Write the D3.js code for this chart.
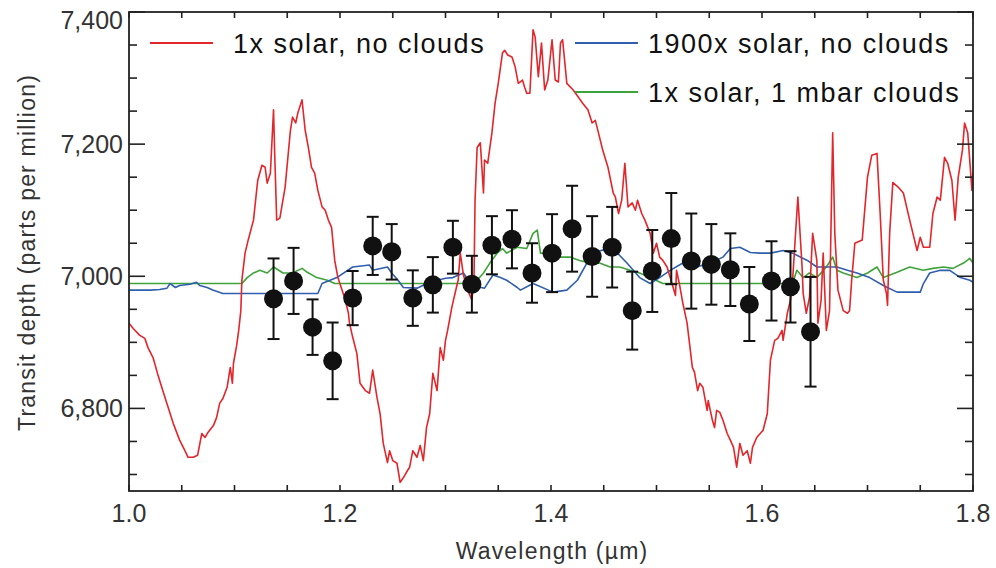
<!DOCTYPE html>
<html>
<head>
<meta charset="utf-8">
<script src="https://cdn.jsdelivr.net/npm/d3@7"></script>
<style>
  html, body { margin: 0; padding: 0; background: #fff; }
  svg { display: block; }
  text { font-family: "Liberation Sans", Arial, Helvetica, sans-serif; }
</style>
</head>
<body>
<svg id="chart" width="996" height="568"></svg>
<script>
// Measured transit depths (ppm) with 1-sigma uncertainties
const obsWavelength = [1.137, 1.156, 1.174, 1.193, 1.212, 1.231, 1.249, 1.269, 1.288, 1.307,
  1.325, 1.344, 1.363, 1.382, 1.401, 1.420, 1.439, 1.458, 1.477, 1.496,
  1.514, 1.533, 1.552, 1.570, 1.588, 1.609, 1.627, 1.646];
const obsDepth = [6966, 6993, 6923, 6872, 6967, 7046, 7037, 6967, 6987, 7044,
  6988, 7047, 7056, 7005, 7035, 7072, 7030, 7044, 6948, 7008,
  7057, 7023, 7018, 7010, 6958, 6993, 6984, 6916];
const obsError = [61, 50, 42, 58, 41, 44, 42, 42, 42, 40,
  43, 44, 44, 45, 59, 65, 61, 61, 59, 62,
  69, 72, 61, 55, 56, 60, 54, 83];

// Model: 1x solar, no clouds
const solarWl = [1.000, 1.004, 1.010, 1.015, 1.018, 1.023, 1.027, 1.032, 1.037, 1.042,
  1.048, 1.053, 1.056, 1.061, 1.065, 1.069, 1.072, 1.075, 1.080, 1.083,
  1.086, 1.089, 1.093, 1.096, 1.098, 1.099, 1.102, 1.104, 1.106, 1.107,
  1.110, 1.113, 1.118, 1.122, 1.126, 1.129, 1.131, 1.134, 1.137, 1.138,
  1.140, 1.143, 1.148, 1.153, 1.155, 1.158, 1.160, 1.164, 1.167, 1.170,
  1.173, 1.176, 1.179, 1.183, 1.186, 1.189, 1.192, 1.195, 1.198, 1.202,
  1.205, 1.208, 1.209, 1.212, 1.216, 1.219, 1.224, 1.228, 1.231, 1.235,
  1.238, 1.241, 1.245, 1.247, 1.250, 1.254, 1.257, 1.260, 1.264, 1.266,
  1.269, 1.273, 1.276, 1.279, 1.282, 1.285, 1.288, 1.292, 1.295, 1.298,
  1.300, 1.302, 1.306, 1.309, 1.312, 1.314, 1.317, 1.321, 1.325, 1.327,
  1.328, 1.330, 1.333, 1.336, 1.337, 1.340, 1.344, 1.347, 1.350, 1.354,
  1.356, 1.359, 1.363, 1.366, 1.369, 1.373, 1.375, 1.377, 1.380, 1.383,
  1.385, 1.388, 1.391, 1.394, 1.397, 1.401, 1.404, 1.407, 1.409, 1.411,
  1.415, 1.421, 1.426, 1.430, 1.435, 1.439, 1.442, 1.445, 1.449, 1.454,
  1.459, 1.461, 1.464, 1.467, 1.470, 1.473, 1.477, 1.480, 1.482, 1.486,
  1.489, 1.494, 1.497, 1.500, 1.503, 1.506, 1.510, 1.513, 1.518, 1.519,
  1.522, 1.525, 1.529, 1.534, 1.536, 1.539, 1.541, 1.544, 1.548, 1.549,
  1.553, 1.555, 1.557, 1.560, 1.563, 1.567, 1.570, 1.573, 1.576, 1.579,
  1.582, 1.586, 1.589, 1.591, 1.595, 1.601, 1.605, 1.608, 1.612, 1.615,
  1.619, 1.620, 1.624, 1.627, 1.629, 1.634, 1.638, 1.639, 1.642, 1.645,
  1.648, 1.652, 1.653, 1.656, 1.658, 1.661, 1.664, 1.667, 1.669, 1.672,
  1.677, 1.681, 1.683, 1.685, 1.688, 1.695, 1.700, 1.704, 1.709, 1.712,
  1.715, 1.718, 1.719, 1.721, 1.724, 1.729, 1.734, 1.740, 1.747, 1.750,
  1.753, 1.759, 1.762, 1.766, 1.769, 1.773, 1.776, 1.780, 1.783, 1.786,
  1.790, 1.792, 1.795, 1.799, 1.800];
const solarPpm = [6929, 6921, 6911, 6906, 6892, 6876, 6853, 6827, 6802, 6777,
  6752, 6736, 6726, 6726, 6729, 6762, 6756, 6764, 6774, 6786,
  6808, 6815, 6832, 6862, 6838, 6868, 6895, 6918, 6948, 6994,
  7035, 7055, 7085, 7145, 7168, 7165, 7141, 7156, 7252, 7191,
  7085, 7088, 7135, 7221, 7241, 7232, 7247, 7267, 7221, 7195,
  7165, 7156, 7130, 7105, 7100, 7085, 7074, 7024, 6998, 6979,
  6964, 6944, 6929, 6908, 6883, 6838, 6827, 6823, 6858, 6817,
  6792, 6747, 6718, 6736, 6721, 6717, 6688, 6695, 6706, 6711,
  6736, 6726, 6744, 6721, 6771, 6792, 6853, 6827, 6892, 6873,
  6903, 6918, 6953, 6974, 6994, 7035, 7002, 6979, 6964, 6994,
  7115, 7195, 7202, 7126, 7176, 7171, 7217, 7262, 7292, 7338,
  7342, 7335, 7332, 7317, 7292, 7297, 7286, 7277, 7277, 7373,
  7362, 7302, 7353, 7282, 7297, 7358, 7297, 7294, 7353, 7358,
  7292, 7282, 7271, 7262, 7252, 7232, 7236, 7217, 7191, 7165,
  7126, 7120, 7095, 7115, 7171, 7105, 7111, 7100, 7115, 7095,
  7085, 7065, 7035, 7050, 7029, 7024, 7014, 6998, 6971, 7009,
  6986, 6959, 6929, 6862, 6855, 6827, 6838, 6832, 6797, 6812,
  6782, 6771, 6797, 6794, 6782, 6762, 6752, 6741, 6711, 6747,
  6729, 6736, 6717, 6741, 6756, 6767, 6792, 6873, 6903, 6906,
  6918, 6903, 6944, 6964, 6994, 7120, 7014, 6974, 6944, 6968,
  7065, 7024, 6929, 6964, 7035, 6918, 6948, 7217, 7065, 6979,
  6948, 6944, 6948, 6994, 7050, 7055, 7150, 7183, 7186, 7095,
  6994, 6974, 6956, 7065, 7142, 7135, 7126, 7085, 7039, 7059,
  7044, 7044, 7095, 7120, 7115, 7180, 7171, 7145, 7085, 7150,
  7191, 7232, 7217, 7130, 7156];

// Model: 1900x solar, no clouds
const metalWl = [1.000, 1.020, 1.029, 1.036, 1.039, 1.044, 1.048, 1.058, 1.064, 1.067,
  1.074, 1.080, 1.089, 1.131, 1.162, 1.179, 1.183, 1.197, 1.212, 1.228,
  1.231, 1.245, 1.249, 1.255, 1.260, 1.273, 1.285, 1.300, 1.307, 1.317,
  1.325, 1.337, 1.345, 1.352, 1.358, 1.368, 1.371, 1.383, 1.402, 1.415,
  1.425, 1.434, 1.440, 1.453, 1.463, 1.472, 1.478, 1.484, 1.494, 1.503,
  1.513, 1.525, 1.538, 1.551, 1.563, 1.570, 1.579, 1.589, 1.598, 1.608,
  1.620, 1.629, 1.643, 1.652, 1.671, 1.681, 1.690, 1.702, 1.715, 1.728,
  1.750, 1.753, 1.759, 1.769, 1.778, 1.788, 1.797, 1.800];
const metalPpm = [6979, 6979, 6980, 6982, 6989, 6983, 6986, 6988, 6991, 6986,
  6983, 6979, 6974, 6974, 6974, 6974, 6989, 6998, 7014, 7017,
  7009, 7014, 7005, 6994, 6983, 6982, 6991, 6997, 6998, 7005,
  6986, 6982, 7002, 6998, 6994, 6983, 6979, 6989, 6976, 6979,
  6994, 7020, 7035, 7042, 7035, 7020, 7009, 6998, 6989, 6998,
  7009, 7020, 7014, 7020, 7029, 7042, 7044, 7036, 7035, 7035,
  7039, 7035, 7024, 7014, 7014, 7009, 7005, 6998, 6986, 6976,
  6976, 6989, 7005, 7009, 7009, 6998, 6994, 6991];

// Model: 1x solar, 1 mbar clouds
const cloudWl = [1.000, 1.102, 1.107, 1.112, 1.118, 1.124, 1.131, 1.137, 1.146, 1.155,
  1.164, 1.169, 1.178, 1.188, 1.195, 1.314, 1.323, 1.330, 1.336, 1.342,
  1.349, 1.354, 1.358, 1.368, 1.377, 1.383, 1.387, 1.390, 1.399, 1.409,
  1.418, 1.427, 1.437, 1.446, 1.456, 1.465, 1.475, 1.484, 1.494, 1.506,
  1.629, 1.633, 1.639, 1.645, 1.652, 1.661, 1.667, 1.671, 1.677, 1.690,
  1.700, 1.709, 1.715, 1.728, 1.740, 1.753, 1.762, 1.772, 1.781, 1.791,
  1.797, 1.800];
const cloudPpm = [6989, 6989, 6989, 6998, 7005, 7009, 7005, 7014, 7005, 7005,
  7012, 7006, 6998, 6994, 6989, 6989, 6991, 6994, 7005, 7020,
  7035, 7042, 7035, 7044, 7042, 7065, 7070, 7035, 7035, 7029,
  7029, 7024, 7020, 7020, 7014, 7014, 7009, 7005, 6998, 6989,
  6989, 7009, 6998, 7005, 6998, 7014, 7029, 7009, 7005, 6998,
  7005, 7014, 6998, 7006, 7014, 7009, 7012, 7014, 7012, 7020,
  7027, 7020];

const yTickLabels = [6800, 7000, 7200, 7400];
const xTickLabels = [1.0, 1.2, 1.4, 1.6, 1.8];
const legendLabels = ["1x solar, no clouds", "1900x solar, no clouds", "1x solar, 1 mbar clouds"];

const svg = d3.select("#chart");
const margin = { left: 129, right: 23, top: 12, bottom: 77 };
const W = 996, H = 568;

const x = d3.scaleLinear().domain([1.0, 1.8]).range([margin.left, W - margin.right]);
const y = d3.scaleLinear().domain([6675, 7400]).range([H - margin.bottom, margin.top]);

const x0 = x.range()[0], x1 = x.range()[1];
const y0 = y.range()[0], y1 = y.range()[1];

svg.append("defs").append("clipPath").attr("id", "plot-clip")
  .append("rect").attr("x", x0).attr("y", y1).attr("width", x1 - x0).attr("height", y0 - y1);

const series = [
  { name: legendLabels[2], wl: cloudWl, ppm: cloudPpm, color: "#3fa33a" },
  { name: legendLabels[1], wl: metalWl, ppm: metalPpm, color: "#2f5fae" },
  { name: legendLabels[0], wl: solarWl, ppm: solarPpm, color: "#e3262b" }
];

const line = d3.line().x(d => x(d[0])).y(d => y(d[1]));
const lines = svg.append("g").attr("clip-path", "url(#plot-clip)");
series.forEach(s => {
  lines.append("path")
    .datum(s.wl.map((w, i) => [w, s.ppm[i]]))
    .attr("fill", "none")
    .attr("stroke", s.color)
    .attr("stroke-width", 1.6)
    .attr("stroke-linejoin", "round")
    .attr("d", line);
});

// Axes frame with inward ticks
const axisColor = "#222";
const frame = svg.append("g");
const yMajor = d3.range(6700, 7401, 50);
const xMinor = d3.range(1.0, 1.8001, 0.05);

// left and right ticks
const yt = frame.append("g");
yt.selectAll("line.l").data(yMajor).join("line")
  .attr("x1", x0).attr("x2", d => x0 + (d % 200 === 0 ? 16 : 8))
  .attr("y1", d => y(d)).attr("y2", d => y(d))
  .attr("stroke", axisColor).attr("stroke-width", 1.6);
yt.selectAll("line.r").data(yMajor).join("line")
  .attr("x1", x1).attr("x2", d => x1 - (d % 200 === 0 ? 16 : 8))
  .attr("y1", d => y(d)).attr("y2", d => y(d))
  .attr("stroke", axisColor).attr("stroke-width", 1.6);

// bottom and top ticks
const xt = frame.append("g");
xMinor.forEach(v => {
  xt.append("line").attr("x1", x(v)).attr("x2", x(v)).attr("y1", y0).attr("y2", y0 - 6)
    .attr("stroke", axisColor).attr("stroke-width", 1.6);
  xt.append("line").attr("x1", x(v)).attr("x2", x(v)).attr("y1", y1).attr("y2", y1 + 6)
    .attr("stroke", axisColor).attr("stroke-width", 1.6);
});

frame.append("rect")
  .attr("x", x0).attr("y", y1).attr("width", x1 - x0).attr("height", y0 - y1)
  .attr("fill", "none").attr("stroke", axisColor).attr("stroke-width", 1.8);

// tick labels
const fmtY = d3.format(",");
svg.append("g").selectAll("text").data(yTickLabels).join("text")
  .attr("x", x0 - 6)
  .attr("y", d => Math.max(y(d), y1 + 8))
  .attr("dy", "0.36em")
  .attr("text-anchor", "end")
  .attr("font-size", 25)
  .attr("fill", "#333")
  .text(d => fmtY(d));

svg.append("g").selectAll("text").data(xTickLabels).join("text")
  .attr("x", d => x(d))
  .attr("y", y0 + 31)
  .attr("text-anchor", "middle")
  .attr("font-size", 25)
  .attr("fill", "#333")
  .text(d => d3.format(".1f")(d));

// axis titles
svg.append("text")
  .attr("transform", `translate(35, ${(y0 + y1) / 2 + 1}) rotate(-90)`)
  .attr("text-anchor", "middle")
  .attr("font-size", 23)
  .attr("letter-spacing", 1.2)
  .attr("fill", "#333")
  .text("Transit depth (parts per million)");

svg.append("text")
  .attr("x", 552).attr("y", 559)
  .attr("text-anchor", "middle")
  .attr("font-size", 23)
  .attr("letter-spacing", 1.2)
  .attr("fill", "#333")
  .text("Wavelength (\u00b5m)");

// error bars and data points
const pts = svg.append("g");
obsWavelength.forEach((w, i) => {
  const cx = x(w), top = y(obsDepth[i] + obsError[i]), bot = y(obsDepth[i] - obsError[i]);
  pts.append("line").attr("x1", cx).attr("x2", cx).attr("y1", top).attr("y2", bot)
    .attr("stroke", "#111").attr("stroke-width", 2);
  [top, bot].forEach(v => pts.append("line")
    .attr("x1", cx - 6).attr("x2", cx + 6).attr("y1", v).attr("y2", v)
    .attr("stroke", "#111").attr("stroke-width", 2));
  pts.append("circle").attr("cx", cx).attr("cy", y(obsDepth[i])).attr("r", 9.5).attr("fill", "#111");
});

// legend
const legendItems = [
  { label: legendLabels[0], color: "#e3262b", lx: 150, ly: 43, gap: 20 },
  { label: legendLabels[1], color: "#2f5fae", lx: 575, ly: 43, gap: 10 },
  { label: legendLabels[2], color: "#3fa33a", lx: 575, ly: 92, gap: 10 }
];
const lg = svg.append("g");
legendItems.forEach(d => {
  lg.append("line").attr("x1", d.lx).attr("x2", d.lx + 63).attr("y1", d.ly).attr("y2", d.ly)
    .attr("stroke", d.color).attr("stroke-width", 2.2);
  lg.append("text").attr("x", d.lx + 63 + d.gap).attr("y", d.ly + 10)
    .attr("font-size", 27).attr("letter-spacing", 1.5).attr("fill", "#111")
    .text(d.label);
});
</script>
</body>
</html>
